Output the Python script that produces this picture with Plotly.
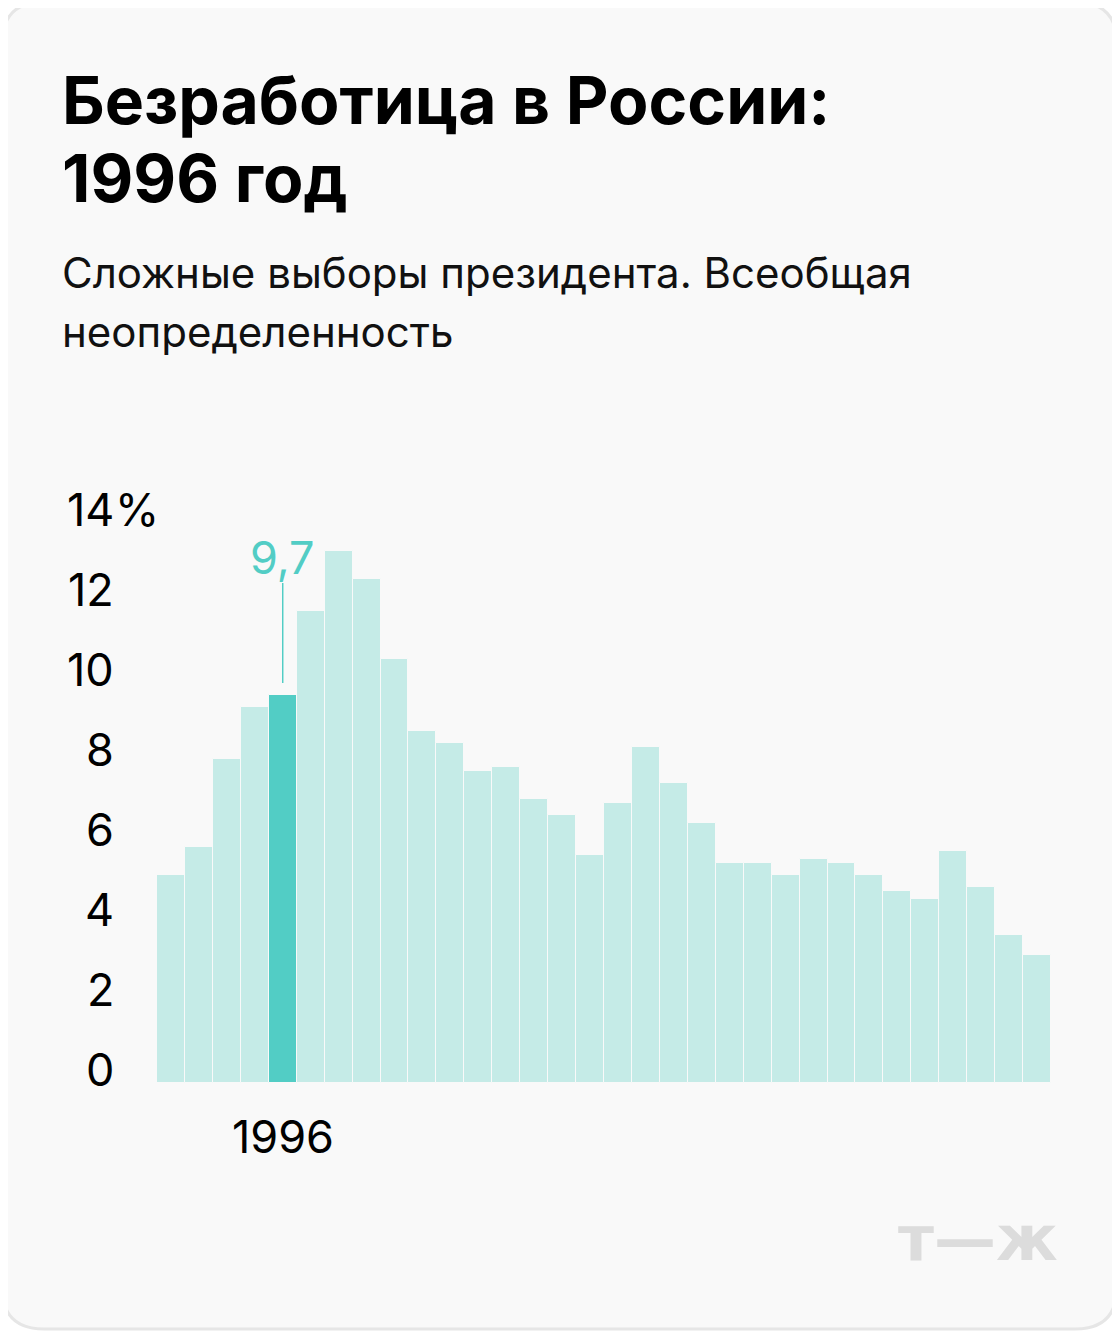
import plotly.graph_objects as go

W, H = 1120, 1332
OFF = 8  # отступ body в странице
L, R, T, B = 157, 1051, 523, 1083

years = list(range(1992, 2024))
rate = [5.2, 5.9, 8.1, 9.4, 9.7, 11.8, 13.3, 12.6, 10.6, 8.8, 8.5, 7.8, 7.9, 7.1, 6.7, 5.7,
        7.0, 8.4, 7.5, 6.5, 5.5, 5.5, 5.2, 5.6, 5.5, 5.2, 4.8, 4.6, 5.8, 4.9, 3.7, 3.2]
highlight_year = 1996
y_ticks = [0, 2, 4, 6, 8, 10, 12, 14]

LIGHT = "#c5ebe7"
ACCENT = "#52cdc5"
FONT = "Inter"


def px(x):
    return (x - L) / (R - L)


def py(y):
    return (B - y) / (B - T)


colors = [ACCENT if yr == highlight_year else LIGHT for yr in years]
fig = go.Figure(go.Bar(x=years, y=rate, marker=dict(color=colors, line=dict(color="#f9f9f9", width=1)),
                       width=1.0, hoverinfo="x+y"))

# карточка с закруглёнными углами
x0, x1, y0, y1, r = px(2), px(1117), py(2), py(1329), 42
rx, ry = r / (R - L), r / (B - T)
card = (f"M {x0+rx},{y0} L {x1-rx},{y0} Q {x1},{y0} {x1},{y0-ry} L {x1},{y1+ry} Q {x1},{y1} {x1-rx},{y1} "
        f"L {x0+rx},{y1} Q {x0},{y1} {x0},{y1+ry} L {x0},{y0-ry} Q {x0},{y0} {x0+rx},{y0} Z")
shapes = [dict(type="path", xref="paper", yref="paper", path=card, fillcolor="#f9f9f9",
               line=dict(color="#e6e6e6", width=3), layer="below")]

hi = years.index(highlight_year)
hv = rate[hi]
shapes.append(dict(type="line", xref="x", yref="y", x0=highlight_year, x1=highlight_year,
                   y0=hv + 0.3, y1=hv + 2.8, line=dict(color=ACCENT, width=1.5)))

ann = []
for t in y_ticks:
    ann.append(dict(x=px(116), y=t, xref="paper", yref="y", text=str(t), showarrow=False,
                    xanchor="right", yanchor="middle", yshift=14, font=dict(size=45, color="#000", family=FONT)))
ann.append(dict(x=px(113), y=14, xref="paper", yref="y", text="%", showarrow=False,
                xanchor="left", yanchor="middle", yshift=14, font=dict(size=45, color="#000", family=FONT)))
ann.append(dict(x=highlight_year, y=hv + 2.8, xref="x", yref="y", text=f"{hv}".replace(".", ","),
                showarrow=False, yanchor="bottom", yshift=-4, font=dict(size=45, color=ACCENT, family=FONT)))
ann.append(dict(x=highlight_year, y=0, xref="x", yref="y", text=str(highlight_year), showarrow=False,
                yanchor="top", yshift=-24, font=dict(size=45, color="#000", family=FONT)))
for txt, yc in [("Безработица в России:", 100), ("1996 год", 178)]:
    ann.append(dict(x=px(60), y=py(yc), xref="paper", yref="paper", xanchor="left", yanchor="middle",
                    showarrow=False, text=f"<b>{txt}</b>", font=dict(size=66, color="#000", family=FONT)))
for txt, yc in [("Сложные выборы президента. Всеобщая", 272), ("неопределенность", 331)]:
    ann.append(dict(x=px(60), y=py(yc), xref="paper", yref="paper", xanchor="left", yanchor="middle",
                    showarrow=False, text=txt, font=dict(size=42, color="#111", family=FONT)))
ann.append(dict(x=px(1060), y=py(1238), xref="paper", yref="paper", xanchor="right", yanchor="middle",
                showarrow=False, text="<b>т—ж</b>",
                font=dict(size=62, color="#dcdcdc", family="DejaVu Sans")))

fig.update_layout(
    width=W, height=H, margin=dict(l=L - OFF, r=W - R + OFF, t=T - OFF, b=H - B + OFF),
    paper_bgcolor="white", plot_bgcolor="rgba(0,0,0,0)",
    showlegend=False, bargap=0, shapes=shapes, annotations=ann,
    xaxis=dict(range=[1991.5, 2023.5], visible=False, fixedrange=True),
    yaxis=dict(range=[0, 14], visible=False, fixedrange=True),
)

fig.write_html("out.html")
